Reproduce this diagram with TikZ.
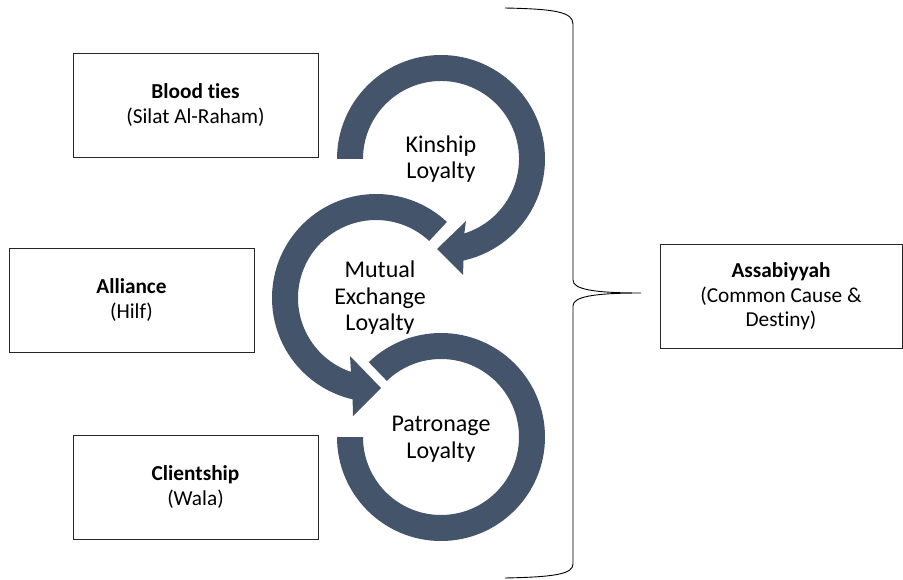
\documentclass[tikz,border=0pt]{standalone}
\usepackage{fontspec}
\setmainfont{Carlito}[Ligatures={NoCommon}]
\usepackage{tikz}
\usetikzlibrary{calc, positioning}
\definecolor{ringslate}{HTML}{44546A}

\begin{document}
\begin{tikzpicture}[x=1pt, y=1pt, yscale=-1,
  tie/.style={rectangle, draw=black!85, line width=0.9pt, fill=white,
    minimum width=245pt, minimum height=104pt, inner sep=0pt, align=center,
    font=\fontsize{21.3}{24.5}\selectfont},
  ring/.style={fill=ringslate},
  loyalty/.style={align=center, font=\fontsize{24}{26.5}\selectfont}
]
  \useasboundingbox (0,0) rectangle (903,580);

  % centres of the three circular arrows
  \coordinate (kin) at (441,159);
  \coordinate (mut) at (376,298);
  \coordinate (pat) at (441,437);

  % kinship arrow
  \fill[ring] ($(kin)+(180:104)$) arc[start angle=180, end angle=437.5, radius=104]
    -- (463,275) -- (437,249) -- (466,221)
    -- ($(kin)+(72.6:78)$) arc[start angle=72.6, end angle=-180, radius=78] -- cycle;
  % mutual exchange arrow
  \fill[ring] ($(mut)+(-47:104)$) arc[start angle=-47, end angle=-257, radius=104]
    -- (353,416) -- (381,388) -- (350,356)
    -- ($(mut)+(108.7:78)$) arc[start angle=108.7, end angle=313, radius=78] -- cycle;
  % patronage ring
  \fill[ring] ($(pat)+(180:104)$) arc[start angle=180, end angle=-134, radius=104]
    -- ($(pat)+(-134:78)$) arc[start angle=-134, end angle=180, radius=78] -- cycle;

  \node[loyalty] (kinText) at (441,159) {Kinship\\Loyalty};
  \node[loyalty] (mutText) at (380,298) {Mutual\\Exchange\\Loyalty};
  \node[loyalty] (patText) at (441,439) {Patronage\\Loyalty};

  \node[tie] (blood) at (195.5,105) {\textbf{Blood ties}\\(Silat Al-Raham)};
  \node[tie] (hilf) at (131.5,300) {\textbf{Alliance}\\(Hilf)};
  \node[tie] (wala) at (195.5,487) {\textbf{Clientship}\\(Wala)};
  \node[tie, minimum width=242pt] (asab) at (781,296.5)
    {\textbf{Assabiyyah}\\(Common Cause \&\\Destiny)};

  % brace
  \coordinate (braceTip) at (641,293);
  \draw[line width=0.9pt] (505,8) .. controls (555,9) and (573,12) .. (573,24)
    -- (573,280) .. controls (573,289) and (592,293) .. (braceTip)
    .. controls (592,293) and (573,297) .. (573,306)
    -- (573,564) .. controls (573,574) and (555,577) .. (505,578);
\end{tikzpicture}
\end{document}
